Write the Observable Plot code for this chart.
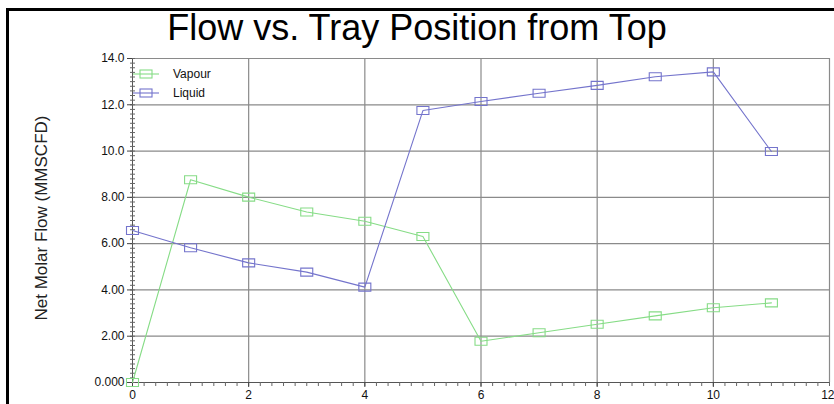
<!DOCTYPE html>
<html>
<head>
<meta charset="utf-8">
<script src="https://cdn.jsdelivr.net/npm/d3@7"></script>
<script src="https://cdn.jsdelivr.net/npm/@observablehq/plot@0.6"></script>
<style>
  html, body { margin: 0; padding: 0; background: #fff; }
  #wrap { position: relative; width: 834px; height: 404px; overflow: hidden; font-family: "Liberation Sans", Arial, sans-serif; }
  #border { position: absolute; left: 6px; top: 8px; width: 900px; height: 500px; border-left: 3px solid #000; border-top: 3px solid #000; box-sizing: border-box; }
  #title { position: absolute; left: 0; width: 834px; top: 7px; text-align: center; font-size: 36px; color: #000; }
  #ylabel { position: absolute; left: 42px; top: 218px; font-size: 17px; color: #222; transform: translate(-50%, -50%) rotate(-90deg); white-space: nowrap; }
  #legend { position: absolute; left: 133px; top: 64px; font-size: 12px; color: #111; }
  #legend .row { display: flex; align-items: center; height: 19px; }
  #legend svg { width: 26px; height: 12px; margin-right: 14px; }
  #chart { position: absolute; left: 0; top: 0; }
</style>
</head>
<body>
<div id="wrap">
  <div id="chart"></div>
  <div id="border"></div>
  <div id="title">Flow vs. Tray Position from Top</div>
  <div id="ylabel">Net Molar Flow (MMSCFD)</div>
  <div id="legend"></div>
</div>
<script>
// Tray positions counted from the top of the column
const trays = [0, 1, 2, 3, 4, 5, 6, 7, 8, 9, 10, 11];
// Net molar flow leaving each tray (MMSCFD)
const vapour = [0.0, 8.76, 8.01, 7.37, 6.97, 6.31, 1.78, 2.15, 2.52, 2.88, 3.23, 3.44];
const liquid = [6.57, 5.82, 5.17, 4.77, 4.12, 11.75, 12.14, 12.50, 12.84, 13.21, 13.42, 9.98];

const seriesNames = ["Vapour", "Liquid"];
const seriesColors = ["#86dc86", "#7474cc"];

const xTicks = [0, 2, 4, 6, 8, 10, 12];
const yTicks = [0, 2, 4, 6, 8, 10, 12, 14];
const yTickLabels = ["0.000", "2.00", "4.00", "6.00", "8.00", "10.0", "12.0", "14.0"];

const rows = [];
trays.forEach((t, i) => {
  rows.push({tray: t, flow: vapour[i], series: "Vapour"});
  rows.push({tray: t, flow: liquid[i], series: "Liquid"});
});

// minor tick positions every 0.2 units
const xMinor = d3.range(0, 12.0001, 0.2);
const yMinor = d3.range(0, 14.0001, 0.2);

// open rectangular marker, 12 x 8 px
const rectMarker = {
  draw(ctx) {
    ctx.moveTo(-6, -4);
    ctx.lineTo(6, -4);
    ctx.lineTo(6, 4);
    ctx.lineTo(-6, 4);
    ctx.closePath();
  }
};

const noLabel = () => "";
const xLast = xTicks[xTicks.length - 1];

const chart = Plot.plot({
  width: 834,
  height: 404,
  marginLeft: 132,
  marginRight: 5,
  marginTop: 58,
  marginBottom: 22,
  style: {fontFamily: "Liberation Sans, Arial, sans-serif", fontSize: "12px", color: "#111", background: "transparent", overflow: "visible"},
  x: {domain: [0, 12]},
  y: {domain: [0, 14]},
  color: {domain: seriesNames, range: seriesColors},
  marks: [
    Plot.gridY(yTicks.filter(d => d > 0), {stroke: "#8a8a8a", strokeOpacity: 1, strokeWidth: 1.2}),
    Plot.gridX(xTicks.filter(d => d > 0), {stroke: "#8a8a8a", strokeOpacity: 1, strokeWidth: 1.2}),
    Plot.ruleX([0], {stroke: "#555"}),
    Plot.ruleY([0], {stroke: "#555"}),
    Plot.axisY(yMinor, {anchor: "left", tickSize: 5, dx: 3, tickFormat: noLabel, stroke: "#666", label: null}),
    Plot.axisY(yTicks, {anchor: "left", tickSize: 5, tickPadding: 3, tickFormat: d => yTickLabels[yTicks.indexOf(d)], stroke: "#444", label: null}),
    Plot.axisX(xMinor, {anchor: "bottom", tickSize: 4, tickFormat: noLabel, stroke: "#666", label: null}),
    Plot.axisX(xTicks.filter(d => d !== xLast), {anchor: "bottom", tickSize: 5, tickPadding: 3, tickFormat: d => String(d), stroke: "#444", label: null}),
    // last label sits at the right edge, so it is set flush against it
    Plot.axisX([xLast], {anchor: "bottom", tickSize: 5, tickPadding: 3, tickFormat: d => String(d), textAnchor: "end", dx: 5, stroke: "#444", label: null}),
    Plot.line(rows, {x: "tray", y: "flow", z: "series", stroke: "series", strokeWidth: 1.1}),
    Plot.dot(rows, {x: "tray", y: "flow", stroke: "series", fill: "none", symbol: rectMarker, strokeWidth: 1.1})
  ]
});
document.getElementById("chart").appendChild(chart);

// legend entries
const legend = d3.select("#legend");
seriesNames.forEach((name, i) => {
  const row = legend.append("div").attr("class", "row");
  const svg = row.append("svg").attr("viewBox", "0 0 26 12");
  svg.append("line").attr("x1", 0).attr("x2", 26).attr("y1", 6).attr("y2", 6)
    .attr("stroke", seriesColors[i]).attr("stroke-width", 1.1);
  svg.append("rect").attr("x", 7).attr("y", 2).attr("width", 12).attr("height", 8)
    .attr("fill", "none").attr("stroke", seriesColors[i]).attr("stroke-width", 1.1);
  row.append("span").text(name);
});
</script>
</body>
</html>
